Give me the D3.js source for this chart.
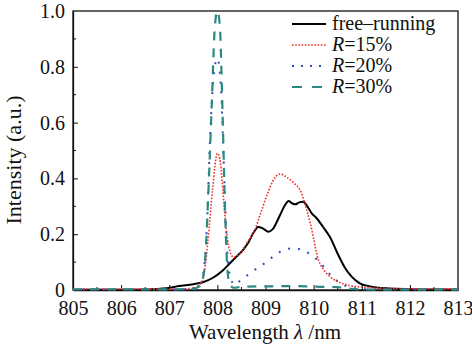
<!DOCTYPE html>
<html>
<head>
<meta charset="utf-8">
<script src="https://cdn.jsdelivr.net/npm/d3@7"></script>
<style>
body { margin: 0; background: #fff; }
</style>
</head>
<body>
<div class="chart"></div>
<script>
var w = 472;
var h = 345;
var margin = {top: 11, right: 14, bottom: 55, left: 73};
var FONT = "'Liberation Serif'";

// free-running (black solid)
var freeX = [805, 806, 806.5, 806.95, 807.2, 807.5, 807.7, 807.9, 808.1, 808.26, 808.4, 808.54, 808.65, 808.75, 808.85, 808.95, 809.06, 809.15, 809.3, 809.4, 809.48, 809.55, 809.62, 809.7, 809.78, 809.87, 809.96, 810.05, 810.2, 810.34, 810.5, 810.65, 810.79, 810.95, 811.17, 811.5, 812, 812.5, 813];
var freeY = [0.001, 0.001, 0.002, 0.006, 0.014, 0.021, 0.028, 0.043, 0.068, 0.096, 0.12, 0.145, 0.172, 0.205, 0.226, 0.22, 0.209, 0.218, 0.268, 0.303, 0.319, 0.311, 0.307, 0.314, 0.316, 0.3, 0.275, 0.26, 0.225, 0.19, 0.13, 0.08, 0.048, 0.025, 0.013, 0.006, 0.003, 0.002, 0.002];

// R=15% (red dotted)
var r15X = [805, 806, 807, 807.5, 807.6, 807.7, 807.8, 807.9, 808.0, 808.05, 808.1, 808.15, 808.23, 808.33, 808.5, 808.6, 808.78, 808.88, 809.03, 809.15, 809.3, 809.45, 809.58, 809.75, 809.85, 809.93, 810.1, 810.2, 810.34, 810.5, 810.7, 811, 811.5, 812, 813];
var r15Y = [0.003, 0.003, 0.003, 0.006, 0.015, 0.04, 0.17, 0.36, 0.49, 0.47, 0.39, 0.28, 0.16, 0.118, 0.137, 0.165, 0.215, 0.265, 0.34, 0.39, 0.416, 0.403, 0.385, 0.346, 0.29, 0.24, 0.108, 0.075, 0.048, 0.03, 0.018, 0.01, 0.006, 0.004, 0.003];

// R=20% (blue dotted)
var r20X = [805, 806, 807, 807.5, 807.6, 807.7, 807.78, 807.85, 807.93, 808.0, 808.07, 808.14, 808.2, 808.28, 808.37, 808.45, 808.6, 808.8, 809.0, 809.2, 809.4, 809.6, 809.8, 810.0, 810.2, 810.4, 810.6, 810.8, 811, 812, 813];
var r20Y = [0.002, 0.002, 0.002, 0.004, 0.01, 0.05, 0.22, 0.55, 0.78, 0.83, 0.74, 0.42, 0.15, 0.04, 0.018, 0.03, 0.05, 0.075, 0.098, 0.125, 0.145, 0.15, 0.14, 0.12, 0.085, 0.045, 0.02, 0.008, 0.003, 0.002, 0.002];

// R=30% (teal dashed)
var r30X = [805, 806, 807, 807.5, 807.6, 807.68, 807.75, 807.82, 807.88, 807.95, 808.0, 808.05, 808.11, 808.16, 808.21, 808.26, 808.35, 808.5, 809, 809.5, 810, 810.5, 810.8, 811, 812, 813];
var r30Y = [0.002, 0.002, 0.002, 0.004, 0.01, 0.03, 0.12, 0.38, 0.65, 0.95, 1.0, 0.95, 0.62, 0.28, 0.07, 0.018, 0.008, 0.012, 0.013, 0.014, 0.012, 0.01, 0.004, 0.002, 0.001, 0.001];

var xTicks = [805, 806, 807, 808, 809, 810, 811, 812, 813];
var yTicks = [0, 0.2, 0.4, 0.6, 0.8, 1.0];

var series = [
    {name: "free", label: "free\u2013running", xs: freeX, ys: freeY, color: "#000", width: 2, dash: null, legDash: null},
    {name: "r15", label: "15%", xs: r15X, ys: r15Y, color: "#f0302a", width: 1.6, dash: "1.6,1.6", legDash: "1.6,1.6"},
    {name: "r20", label: "20%", xs: r20X, ys: r20Y, color: "#3050b8", width: 2, dash: "2,8", legDash: "2,7"},
    {name: "r30", label: "30%", xs: r30X, ys: r30Y, color: "#2a8a82", width: 2.2, dash: "9,8", legDash: "10,10"}
];

var svg = d3.select(".chart")
    .append("svg")
    .attr("width", w)
    .attr("height", h)
    .style("font-family", FONT);

var x = d3.scaleLinear().domain([805, 813]).range([margin.left, w - margin.right]);
var y = d3.scaleLinear().domain([0, 1]).range([h - margin.bottom, margin.top]);

//frame
svg.append("rect")
    .attr("x", x(805)).attr("y", y(1))
    .attr("width", x(813) - x(805)).attr("height", y(0) - y(1))
    .attr("fill", "none").attr("stroke", "#111").attr("stroke-width", 1.3);

// minor ticks (inside)
var xMinor = d3.range(805.5, 813, 1);
var yMinor = d3.range(0.1, 1, 0.2);

var xAxis = d3.axisBottom(x).tickValues(xTicks).tickSizeInner(-5).tickSizeOuter(0).tickPadding(11).tickFormat(d3.format("d"));
var yAxis = d3.axisLeft(y).tickValues(yTicks).tickSizeInner(-5).tickSizeOuter(0).tickPadding(8)
    .tickFormat(function(d) { return d === 0 ? "0" : d3.format(".1f")(d); });

var gx = svg.append("g").attr("transform", "translate(0," + y(0) + ")").call(xAxis);
gx.selectAll(".tick")
    .filter(function(d) { return d === 805 || d === 813; })
    .select("line").remove();
var gy = svg.append("g").attr("transform", "translate(" + x(805) + ",0)").call(yAxis);
gy.selectAll(".tick")
    .filter(function(d) { return d === 0 || d === 1; })
    .select("line").remove();

[gx, gy].forEach(function(g) {
    g.select(".domain").attr("stroke", "#111").attr("stroke-width", 1.3);
    g.selectAll(".tick line").attr("stroke", "#111");
    g.selectAll(".tick text")
        .style("font-family", FONT)
        .style("font-size", "20px")
        .attr("fill", "#111");
});

svg.selectAll(".xminor").data(xMinor).enter().append("line")
    .attr("x1", function(d) { return x(d); }).attr("x2", function(d) { return x(d); })
    .attr("y1", y(0)).attr("y2", y(0) - 3)
    .attr("stroke", "#111");
svg.selectAll(".yminor").data(yMinor).enter().append("line")
    .attr("y1", function(d) { return y(d); }).attr("y2", function(d) { return y(d); })
    .attr("x1", x(805)).attr("x2", x(805) + 3)
    .attr("stroke", "#111");

var line = d3.line()
    .x(function(d) { return x(d[0]); })
    .y(function(d) { return y(d[1]); })
    .curve(d3.curveMonotoneX);

// draw back to front: free, r20, r15, r30
[series[0], series[2], series[1], series[3]].forEach(function(s) {
    var pts = s.xs.map(function(v, i) { return [v, s.ys[i]]; });
    svg.append("path")
        .datum(pts)
        .attr("class", s.name)
        .attr("d", line)
        .attr("fill", "none")
        .attr("stroke", s.color)
        .attr("stroke-width", s.width)
        .attr("stroke-dasharray", s.dash);
});

// legend
var leg = svg.append("g");
var rowY = [24, 45, 66, 87];
series.forEach(function(s, i) {
    leg.append("line")
        .attr("x1", 292).attr("x2", 326)
        .attr("y1", rowY[i]).attr("y2", rowY[i])
        .attr("stroke", s.color)
        .attr("stroke-width", s.width)
        .attr("stroke-dasharray", s.legDash);
    var t = leg.append("text")
        .attr("x", 332).attr("y", rowY[i] + 6)
        .style("font-family", FONT)
        .style("font-size", "20px")
        .attr("fill", "#111");
    if (s.name === "free") {
        t.text(s.label);
    } else {
        t.append("tspan").style("font-style", "italic").text("R");
        t.append("tspan").text("=" + s.label);
    }
});

// axis titles
var xl = svg.append("text")
    .attr("x", 265).attr("y", 339)
    .attr("text-anchor", "middle")
    .style("font-family", FONT)
    .style("font-size", "21px")
    .attr("fill", "#111");
xl.append("tspan").text("Wavelength ");
xl.append("tspan").style("font-style", "italic").text("\u03bb");
xl.append("tspan").text(" /nm");

svg.append("text")
    .attr("transform", "translate(21,160) rotate(-90)")
    .attr("text-anchor", "middle")
    .style("font-family", FONT)
    .style("font-size", "22px")
    .attr("fill", "#111")
    .text("Intensity (a.u.)");
</script>
</body>
</html>
